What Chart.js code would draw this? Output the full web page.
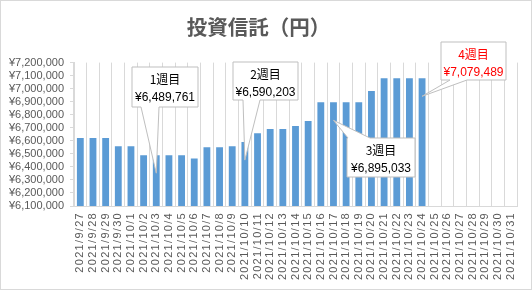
<!DOCTYPE html>
<html>
<head>
<meta charset="utf-8">
<script src="https://cdn.jsdelivr.net/npm/chart.js@4/dist/chart.umd.min.js"></script>
<style>
  body { margin: 0; background: #fff; }
  canvas { display: block; }
</style>
</head>
<body>
<canvas id="myChart" width="532" height="290"></canvas>
<script>
// data
const dates = [
  "2021/9/27", "2021/9/28", "2021/9/29", "2021/9/30",
  "2021/10/1", "2021/10/2", "2021/10/3", "2021/10/4", "2021/10/5", "2021/10/6", "2021/10/7",
  "2021/10/8", "2021/10/9", "2021/10/10", "2021/10/11", "2021/10/12", "2021/10/13", "2021/10/14",
  "2021/10/15", "2021/10/16", "2021/10/17", "2021/10/18", "2021/10/19", "2021/10/20", "2021/10/21",
  "2021/10/22", "2021/10/23", "2021/10/24", "2021/10/25", "2021/10/26", "2021/10/27", "2021/10/28",
  "2021/10/29", "2021/10/30", "2021/10/31"
];
const values = [
  6621000, 6621000, 6621000, 6558000,
  6558000, 6489761, 6489761, 6489761, 6489761, 6464000, 6550000,
  6550000, 6558000, 6590203, 6659000, 6690000, 6690000, 6713000,
  6752000, 6895033, 6895033, 6895033, 6895033, 6982000, 7079489,
  7079489, 7079489, 7079489, null, null, null, null,
  null, null, null
];
const yMin = 6100000;
const yMax = 7200000;
const yStep = 100000;

const weekNames = ["1週目", "2週目", "3週目", "4週目"];
const weekIndex = [6, 13, 20, 27];

// callout boxes (layout only)
const calloutBoxes = [
  { x: 132, y: 67, w: 66, h: 40, side: "bottom", b1: 141, b2: 159, color: "#000000" },
  { x: 233, y: 62, w: 65, h: 38, side: "bottom", b1: 243, b2: 260, color: "#000000" },
  { x: 347, y: 138, w: 68, h: 39, side: "top", b1: 348, b2: 370, color: "#000000" },
  { x: 441, y: 42, w: 65, h: 38, side: "bottom", b1: 450, b2: 467, color: "#FF0000" }
];
const tipDrop = 18;

const yen = v => "¥" + v.toLocaleString("en-US");

const frame = {
  id: "frame",
  beforeDraw(chart) {
    const c = chart.ctx;
    c.save();
    c.fillStyle = "#ffffff";
    c.fillRect(0, 0, chart.width, chart.height);
    c.strokeStyle = "#D9D9D9";
    c.lineWidth = 1;
    c.strokeRect(0.5, 0.5, chart.width - 1, chart.height - 1);
    c.restore();
  }
};

const callouts = {
  id: "callouts",
  afterDatasetsDraw(chart) {
    const c = chart.ctx;
    const meta = chart.getDatasetMeta(0);
    c.save();
    weekIndex.forEach((idx, i) => {
      const bar = meta.data[idx];
      const b = calloutBoxes[i];
      const tx = bar.x, ty = bar.y + tipDrop;
      c.beginPath();
      if (b.side === "bottom") {
        c.moveTo(b.x, b.y);
        c.lineTo(b.x + b.w, b.y);
        c.lineTo(b.x + b.w, b.y + b.h);
        c.lineTo(b.b2, b.y + b.h);
        c.lineTo(tx, ty);
        c.lineTo(b.b1, b.y + b.h);
        c.lineTo(b.x, b.y + b.h);
      } else {
        c.moveTo(b.x, b.y);
        c.lineTo(b.b1, b.y);
        c.lineTo(tx, ty);
        c.lineTo(b.b2, b.y);
        c.lineTo(b.x + b.w, b.y);
        c.lineTo(b.x + b.w, b.y + b.h);
        c.lineTo(b.x, b.y + b.h);
      }
      c.closePath();
      c.fillStyle = "#ffffff";
      c.fill();
      c.strokeStyle = "#BFBFBF";
      c.lineWidth = 1;
      c.stroke();

      c.fillStyle = b.color;
      c.textAlign = "center";
      c.textBaseline = "middle";
      c.font = "12px 'Noto Sans CJK JP', 'Liberation Sans'";
      c.fillText(weekNames[i], b.x + b.w / 2, b.y + 12.5);
      c.font = "12px 'Liberation Sans', 'Noto Sans CJK JP'";
      c.fillText(yen(values[idx]), b.x + b.w / 2, b.y + 30.5);
    });
    c.restore();
  }
};

const ctx = document.getElementById("myChart").getContext("2d");
const myChart = new Chart(ctx, {
  type: "bar",
  data: {
    labels: dates,
    datasets: [{
      data: values,
      backgroundColor: "#5B9BD5",
      barPercentage: 0.54,
      categoryPercentage: 1
    }]
  },
  options: {
    responsive: false,
    animation: false,
    devicePixelRatio: 1,
    layout: { padding: { left: 0, right: 15, top: 0, bottom: 0 } },
    plugins: {
      legend: { display: false },
      tooltip: { enabled: false },
      title: {
        display: true,
        text: "投資信託（円）",
        color: "#595959",
        font: { family: "'Noto Sans CJK JP'", size: 20.5, weight: "bold", lineHeight: 1.2 },
        padding: { top: 15, bottom: 23 }
      }
    },
    scales: {
      x: {
        grid: { color: "#D9D9D9", offset: true, drawTicks: false },
        border: { color: "#D9D9D9" },
        ticks: {
          autoSkip: false,
          minRotation: 90,
          maxRotation: 90,
          padding: 6,
          color: "#595959",
          font: { family: "'Liberation Sans'", size: 11 }
        },
        afterFit(scale) { scale.height = 84; }
      },
      y: {
        min: yMin,
        max: yMax,
        grid: { drawOnChartArea: false, tickLength: 4, color: "#D9D9D9" },
        border: { color: "#D9D9D9" },
        ticks: {
          autoSkip: false,
          stepSize: yStep,
          padding: 6,
          color: "#595959",
          font: { family: "'Liberation Sans'", size: 11 },
          callback: v => yen(v)
        },
        afterFit(scale) { scale.width = 74; }
      }
    }
  },
  plugins: [frame, callouts]
});

// spaced-out date labels like the original
const xScale = myChart.scales.x;
const origDrawLabels = xScale.drawLabels;
xScale.drawLabels = function(area) {
  this.ctx.save();
  this.ctx.letterSpacing = "1.3px";
  origDrawLabels.call(this, area);
  this.ctx.restore();
};
myChart.draw();
</script>
</body>
</html>
